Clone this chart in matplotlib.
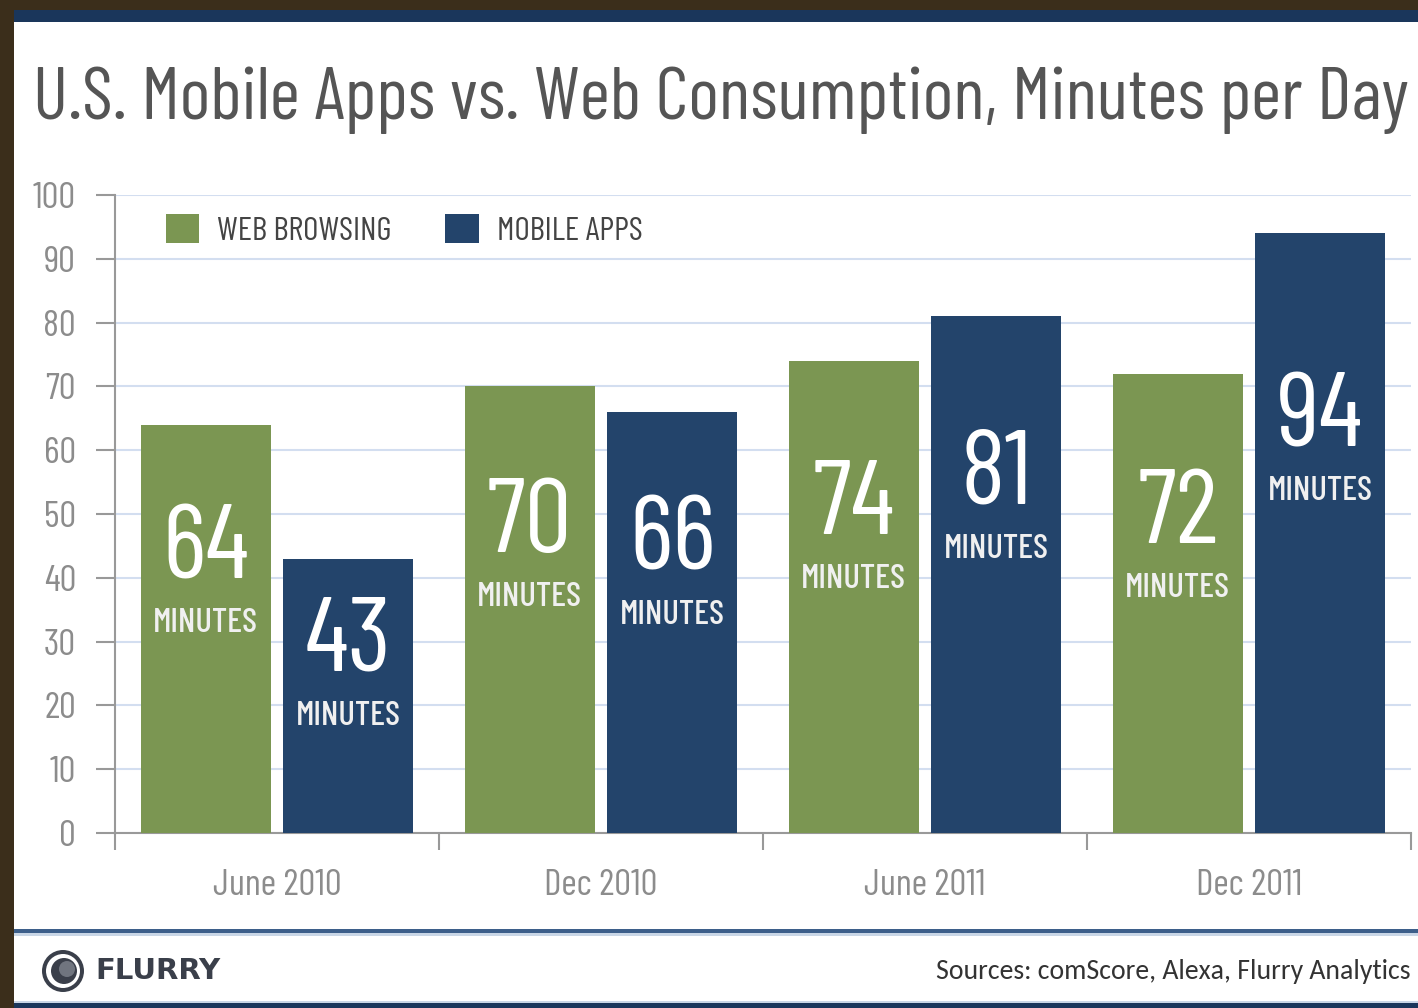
import matplotlib
matplotlib.use("Agg")
import matplotlib.pyplot as plt
from matplotlib.patches import Rectangle, Ellipse
import numpy as np

# chart data
periods = ["June 2010", "Dec 2010", "June 2011", "Dec 2011"]
web_browsing = [64, 70, 74, 72]
mobile_apps = [43, 66, 81, 94]
yticks = [0, 10, 20, 30, 40, 50, 60, 70, 80, 90, 100]

GREEN = "#7b9652"
NAVY = "#23446b"
DARK_NAVY = "#1a365b"
BROWN = "#3b2e1b"
COND = ["Barlow Condensed", "DejaVu Sans"]

W, H = 1418, 1008
fig = plt.figure(figsize=(W / 100, H / 100), dpi=100)
fig.patch.set_facecolor("white")

def fx(px):
    return px / W

def fy(py):
    return 1 - py / H

def frect(x0, y0, x1, y1, color):
    # rectangle in pixel coords (top-left origin)
    fig.add_artist(Rectangle((fx(x0), fy(y1)), fx(x1) - fx(x0), fy(y0) - fy(y1),
                             transform=fig.transFigure, color=color, lw=0, zorder=0))

def fcircle(cx, cy, r, color):
    fig.add_artist(Ellipse((fx(cx), fy(cy)), 2 * r / W, 2 * r / H,
                           transform=fig.transFigure, color=color, lw=0, zorder=2))

# frame: brown border, navy bars
frect(0, 0, W, 10, BROWN)
frect(0, 0, 14, H, BROWN)
frect(14, 10, W, 22, DARK_NAVY)
frect(14, 929, W, 933, "#3d5f8a")
frect(14, 933, W, 936, "#c9d6e6")
frect(14, 1001, W, 1003, "#c9d6e6")
frect(14, 1003, W, H, DARK_NAVY)

# title
fig.text(fx(33), fy(100), "U.S. Mobile Apps vs. Web Consumption, Minutes per Day",
         family=COND, fontweight="normal", fontsize=53, color="#555555",
         va="center", ha="left")

# axes
ax = fig.add_axes([fx(115), fy(833), fx(1411) - fx(115), fy(195) - fy(833)])
x = np.arange(len(periods))
bw = 0.40
off = 0.22
ax.bar(x - off, web_browsing, bw, color=GREEN, zorder=3, label="WEB BROWSING")
ax.bar(x + off, mobile_apps, bw, color=NAVY, zorder=3, label="MOBILE APPS")

ax.set_xlim(-0.5, len(periods) - 0.5)
ax.set_ylim(0, 100)
ax.set_yticks(yticks)
ax.set_yticklabels([str(t) for t in yticks], family=COND, fontweight="normal",
                   fontsize=27, color="#8c8c8c")
ax.set_xticks(x)
ax.set_xticklabels(periods, family=COND, fontweight="normal", fontsize=27, color="#8c8c8c")
ax.set_xticks(np.arange(len(periods) + 1) - 0.5, minor=True)
ax.tick_params(axis="x", which="major", length=0, pad=26)
ax.tick_params(axis="x", which="minor", length=12, width=1.5, color="#999999")
ax.tick_params(axis="y", length=14, width=1.5, color="#999999", pad=14)
ax.yaxis.grid(True, color="#d3def0", lw=1.5, zorder=0)
for s in ["top", "right"]:
    ax.spines[s].set_visible(False)
for s in ["left", "bottom"]:
    ax.spines[s].set_color("#999999")
    ax.spines[s].set_linewidth(1.5)

# value labels inside bars
for xs, vals in [(x - off, web_browsing), (x + off, mobile_apps)]:
    for xi, v in zip(xs, vals):
        ax.text(xi, v * 0.69, str(v), family=COND, fontsize=76, color="white",
                ha="center", va="center", zorder=4)
        ax.text(xi, v * 0.69 - 11.4, "MINUTES", family=COND, fontsize=25,
                fontweight="medium", color="#f0f0f0", ha="center", va="center", zorder=4)

leg = ax.legend(loc="upper left", bbox_to_anchor=(0.016, 1.018), ncol=2, frameon=False,
                prop={"family": COND, "size": 24}, handlelength=1.0, handleheight=1.0,
                columnspacing=1.6, handletextpad=0.55)
for t in leg.get_texts():
    t.set_color("#444444")

# footer
fcircle(63, 971, 21, "#3a3f4a")
fcircle(63, 971, 17, "white")
fcircle(64, 971, 13, "#3a3f4a")
fcircle(67, 969, 8, "#70757f")
fig.text(fx(95), fy(971), "FLURRY", family=["DejaVu Sans"], fontsize=21,
         fontweight="bold", color="#3a3f4a", va="center", ha="left")
fig.text(fx(1410), fy(972), "Sources: comScore, Alexa, Flurry Analytics",
         family=["Carlito", "Open Sans", "DejaVu Sans"], fontsize=20, color="#333333",
         va="center", ha="right")

fig.savefig("out.png", dpi=100)
